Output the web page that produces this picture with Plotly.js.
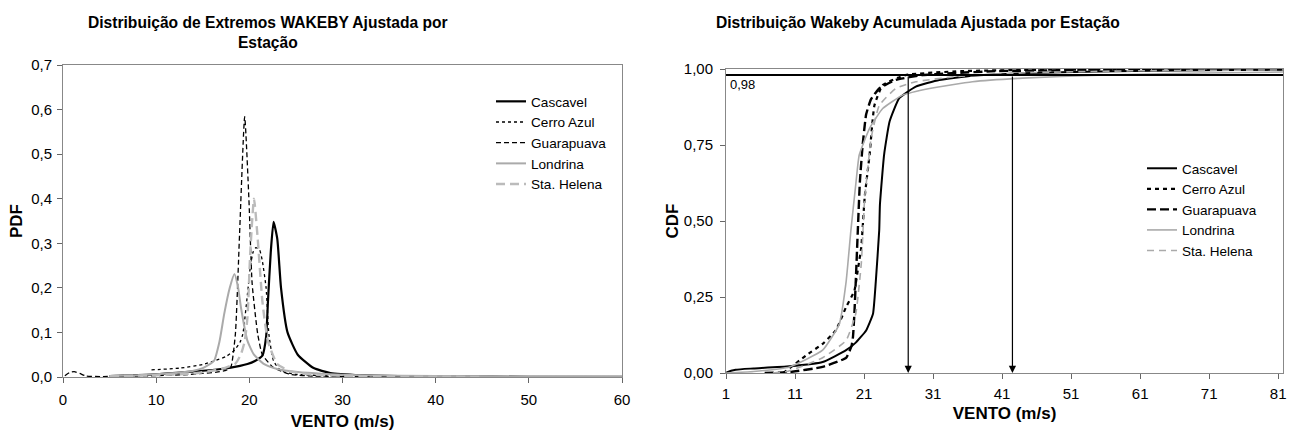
<!DOCTYPE html>
<html><head><meta charset="utf-8">
<script src="https://cdn.plot.ly/plotly-3.0.1.min.js"></script>
<style>body{margin:0;padding:0;background:#fff}#c{width:1293px;height:431px}</style>
</head><body><div id="c"></div>
<script>
// ---------- data ----------
const stations = ["Cascavel", "Cerro Azul", "Guarapuava", "Londrina", "Sta. Helena"];

// PDF (left chart)
const pdfCascavelX = [5, 8, 10, 12.6, 15, 17, 19, 19.8, 20.6, 21.4, 21.8, 22.0, 22.3, 22.6, 23.0, 23.4, 24.1, 25.2, 26.9, 28.7, 32, 36, 42, 50, 60];
const pdfCascavelY = [0.002, 0.004, 0.006, 0.010, 0.014, 0.018, 0.025, 0.029, 0.036, 0.048, 0.09, 0.17, 0.28, 0.348, 0.31, 0.20, 0.10, 0.05, 0.02, 0.009, 0.004, 0.002, 0.001, 0.0005, 0.0002];
const pdfCerroX = [9.5, 12.6, 15, 16.2, 17.5, 18.4, 19.0, 19.3, 19.8, 20.1, 20.4, 20.7, 21.1, 21.4, 21.8, 22.1, 22.6, 23.4, 25, 28, 32, 40];
const pdfCerroY = [0.016, 0.020, 0.028, 0.036, 0.046, 0.06, 0.078, 0.096, 0.186, 0.246, 0.28, 0.29, 0.285, 0.26, 0.20, 0.096, 0.036, 0.014, 0.006, 0.003, 0.001, 0.0005];
const pdfGuaraX = [0.2, 0.7, 1.2, 1.8, 2.5, 4, 7, 10, 13, 15, 16.5, 17.5, 18.0, 18.5, 18.95, 19.5, 19.96, 20.3, 20.9, 21.4, 22.6, 24.4, 27, 30, 35, 40];
const pdfGuaraY = [0.003, 0.010, 0.012, 0.008, 0.002, 0.001, 0.002, 0.003, 0.005, 0.008, 0.011, 0.015, 0.021, 0.096, 0.32, 0.584, 0.396, 0.21, 0.096, 0.05, 0.021, 0.006, 0.002, 0.001, 0.0005, 0.0002];
const pdfLondX = [5, 8, 10, 12.6, 14, 15, 16.2, 16.8, 17.3, 17.9, 18.4, 18.8, 19.1, 19.8, 20.5, 21.6, 23, 25.2, 28, 32, 40, 50, 60];
const pdfLondY = [0.002, 0.004, 0.006, 0.010, 0.014, 0.02, 0.036, 0.08, 0.141, 0.2, 0.231, 0.2, 0.156, 0.081, 0.05, 0.029, 0.018, 0.011, 0.007, 0.004, 0.002, 0.001, 0.0005];
const pdfHelenaX = [5, 10, 14, 17, 18.5, 19.1, 19.5, 19.8, 20.1, 20.5, 20.9, 21.4, 22.0, 23.0, 24.5, 27, 30, 35, 45];
const pdfHelenaY = [0.002, 0.004, 0.008, 0.018, 0.03, 0.051, 0.08, 0.134, 0.28, 0.40, 0.31, 0.17, 0.08, 0.029, 0.012, 0.005, 0.003, 0.001, 0.0003];

// CDF (right chart)
const cdfCascavelX = [1, 1.2, 2.4, 5, 10.2, 15, 18.4, 19.8, 21.3, 22.3, 22.7, 23.2, 23.3, 23.9, 24.7, 26.1, 28.5, 31.9, 36.7, 44, 55, 70, 82];
const cdfCascavelY = [0, 0.003, 0.011, 0.015, 0.022, 0.036, 0.075, 0.10, 0.14, 0.195, 0.30, 0.47, 0.553, 0.717, 0.827, 0.904, 0.942, 0.964, 0.978, 0.986, 0.992, 0.996, 0.998];
const cdfCerroX = [9.3, 10, 12.6, 15, 16.9, 18.4, 19.6, 20.1, 20.6, 21.1, 21.8, 22.5, 23.7, 27, 35, 45, 60, 82];
const cdfCerroY = [0, 0.012, 0.058, 0.096, 0.14, 0.217, 0.27, 0.34, 0.414, 0.58, 0.717, 0.88, 0.947, 0.98, 0.993, 0.997, 0.999, 1.0];
const cdfGuaraX = [6.6, 10.2, 15, 18.4, 19.2, 19.4, 19.6, 19.8, 20.1, 20.4, 20.8, 21.3, 22, 23.2, 25.6, 29.5, 40, 55, 82];
const cdfGuaraY = [0, 0.003, 0.02, 0.05, 0.09, 0.12, 0.195, 0.30, 0.47, 0.63, 0.75, 0.85, 0.90, 0.936, 0.964, 0.98, 0.993, 0.997, 1.0];
const cdfLondX = [1, 5, 10.2, 15, 17.4, 18.4, 19.1, 19.8, 20.3, 21.8, 23.7, 26.6, 30.5, 36.7, 44, 55, 70, 82];
const cdfLondY = [0, 0.005, 0.02, 0.075, 0.16, 0.30, 0.47, 0.62, 0.717, 0.805, 0.87, 0.914, 0.936, 0.958, 0.97, 0.98, 0.987, 0.99];
const cdfHelenaX = [7.8, 10, 15, 18.4, 19.8, 20.6, 21.1, 21.5, 22, 23.2, 25.6, 28.5, 34.3, 45, 60, 82];
const cdfHelenaY = [0, 0.006, 0.05, 0.107, 0.195, 0.36, 0.58, 0.66, 0.77, 0.88, 0.936, 0.958, 0.975, 0.988, 0.994, 0.997];

const refLevel = 0.98;          // horizontal reference CDF level
const arrowX = [27.4, 42.5];    // wind speeds marked by arrows

const pdfTicks = [0, 10, 20, 30, 40, 50, 60];
const cdfTicks = [1, 11, 21, 31, 41, 51, 61, 71, 81];
const pdfYTicks = [0, 0.1, 0.2, 0.3, 0.4, 0.5, 0.6, 0.7];
const cdfYTicks = [0, 0.25, 0.5, 0.75, 1.0];

// ---------- styles ----------
const FONT = "Liberation Sans, Arial, sans-serif";
const pdfStyles = [
  {color: "#000000", width: 2.2, dash: "solid"},
  {color: "#000000", width: 1.3, dash: "dot"},
  {color: "#000000", width: 1.3, dash: "5px,3px"},
  {color: "#aaaaaa", width: 2.0, dash: "solid"},
  {color: "#bbbbbb", width: 2.4, dash: "9px,5px"}
];
const cdfStyles = [
  {color: "#000000", width: 2.0, dash: "solid"},
  {color: "#000000", width: 2.2, dash: "4px,4px"},
  {color: "#000000", width: 2.4, dash: "9px,4px"},
  {color: "#aaaaaa", width: 1.6, dash: "solid"},
  {color: "#aaaaaa", width: 1.6, dash: "7px,5px"}
];

const pdfData = [[pdfCascavelX, pdfCascavelY], [pdfCerroX, pdfCerroY], [pdfGuaraX, pdfGuaraY], [pdfLondX, pdfLondY], [pdfHelenaX, pdfHelenaY]];
const cdfData = [[cdfCascavelX, cdfCascavelY], [cdfCerroX, cdfCerroY], [cdfGuaraX, cdfGuaraY], [cdfLondX, cdfLondY], [cdfHelenaX, cdfHelenaY]];

const traces = [];
stations.forEach((s, i) => {
  traces.push({x: pdfData[i][0], y: pdfData[i][1], name: s, type: "scatter", mode: "lines",
    line: Object.assign({shape: "spline", smoothing: 0.5}, pdfStyles[i]), xaxis: "x", yaxis: "y", legend: "legend"});
});
stations.forEach((s, i) => {
  traces.push({x: cdfData[i][0], y: cdfData[i][1], name: s, type: "scatter", mode: "lines",
    line: Object.assign({shape: "spline", smoothing: 0.4}, cdfStyles[i]), xaxis: "x2", yaxis: "y2", legend: "legend2"});
});

const W = 1293, H = 431;
const axCommon = {showline: true, linecolor: "#888", linewidth: 1, mirror: true, ticks: "outside",
  ticklen: 5, tickcolor: "#666", showgrid: false, zeroline: false,
  tickfont: {family: FONT, size: 15, color: "#000"}};
const axTitleFont = {family: FONT, size: 17};

const layout = {
  width: W, height: H, margin: {l: 0, r: 0, t: 0, b: 0},
  paper_bgcolor: "#fff", plot_bgcolor: "#fff", separators: ",.",
  font: {family: FONT, color: "#000"},
  xaxis: Object.assign({}, axCommon, {domain: [63 / W, 622 / W], range: [0, 60], tickvals: pdfTicks,
    ticklabelstandoff: 4, title: {text: "<b>VENTO (m/s)</b>", font: axTitleFont, standoff: 8}, anchor: "y"}),
  yaxis: Object.assign({}, axCommon, {domain: [(H - 377) / H, (H - 65) / H], range: [0, 0.7], tickvals: pdfYTicks,
    tickformat: ".1f", ticklabelstandoff: 2, title: {text: "<b>PDF</b>", font: axTitleFont, standoff: 4}, anchor: "x"}),
  xaxis2: Object.assign({}, axCommon, {domain: [726 / W, 1283 / W], range: [1, 81.7], tickvals: cdfTicks,
    ticklabelstandoff: 2, title: {text: "<b>VENTO (m/s)</b>", font: axTitleFont, standoff: 6}, anchor: "y2"}),
  yaxis2: Object.assign({}, axCommon, {domain: [(H - 373) / H, (H - 69) / H], range: [0, 1.0], tickvals: cdfYTicks,
    tickformat: ".2f", ticklabelstandoff: 4, title: {text: "<b>CDF</b>", font: axTitleFont, standoff: 0}, anchor: "x2"}),
  legend: {x: 491 / W, y: (H - 86) / H, xanchor: "left", yanchor: "top", bgcolor: "rgba(0,0,0,0)",
    font: {family: FONT, size: 13.6}, tracegroupgap: 0, itemwidth: 30},
  legend2: {x: 1142 / W, y: (H - 153) / H, xanchor: "left", yanchor: "top", bgcolor: "rgba(0,0,0,0)",
    font: {family: FONT, size: 13.5}, tracegroupgap: 0, itemwidth: 30},
  shapes: [
    {type: "line", xref: "x2 domain", yref: "y2", x0: 0, x1: 1, y0: refLevel, y1: refLevel,
      line: {color: "#000", width: 2}}
  ],
  annotations: [
    {xref: "paper", yref: "paper", x: 268 / W, y: (H - 12) / H, xanchor: "center", yanchor: "top", showarrow: false,
      text: "<b>Distribuição de Extremos WAKEBY Ajustada por<br>Estação</b>", font: {family: FONT, size: 15.6}},
    {xref: "paper", yref: "paper", x: 918 / W, y: (H - 12) / H, xanchor: "center", yanchor: "top", showarrow: false,
      text: "<b>Distribuição Wakeby Acumulada Ajustada por Estação</b>", font: {family: FONT, size: 15.6}},
    {xref: "x2", yref: "y2", x: 1.3, y: refLevel, xanchor: "left", yanchor: "top", showarrow: false,
      text: refLevel.toFixed(2).replace(".", ","), font: {family: FONT, size: 13}}
  ].concat(arrowX.map(v => ({xref: "x2", yref: "y2", x: v, y: 0, axref: "x2", ayref: "y2", ax: v, ay: refLevel,
      showarrow: true, arrowhead: 2, arrowsize: 1.2, arrowwidth: 1.2, arrowcolor: "#000", text: ""})))
};

Plotly.newPlot("c", traces, layout, {displayModeBar: false, staticPlot: true});
</script></body></html>
